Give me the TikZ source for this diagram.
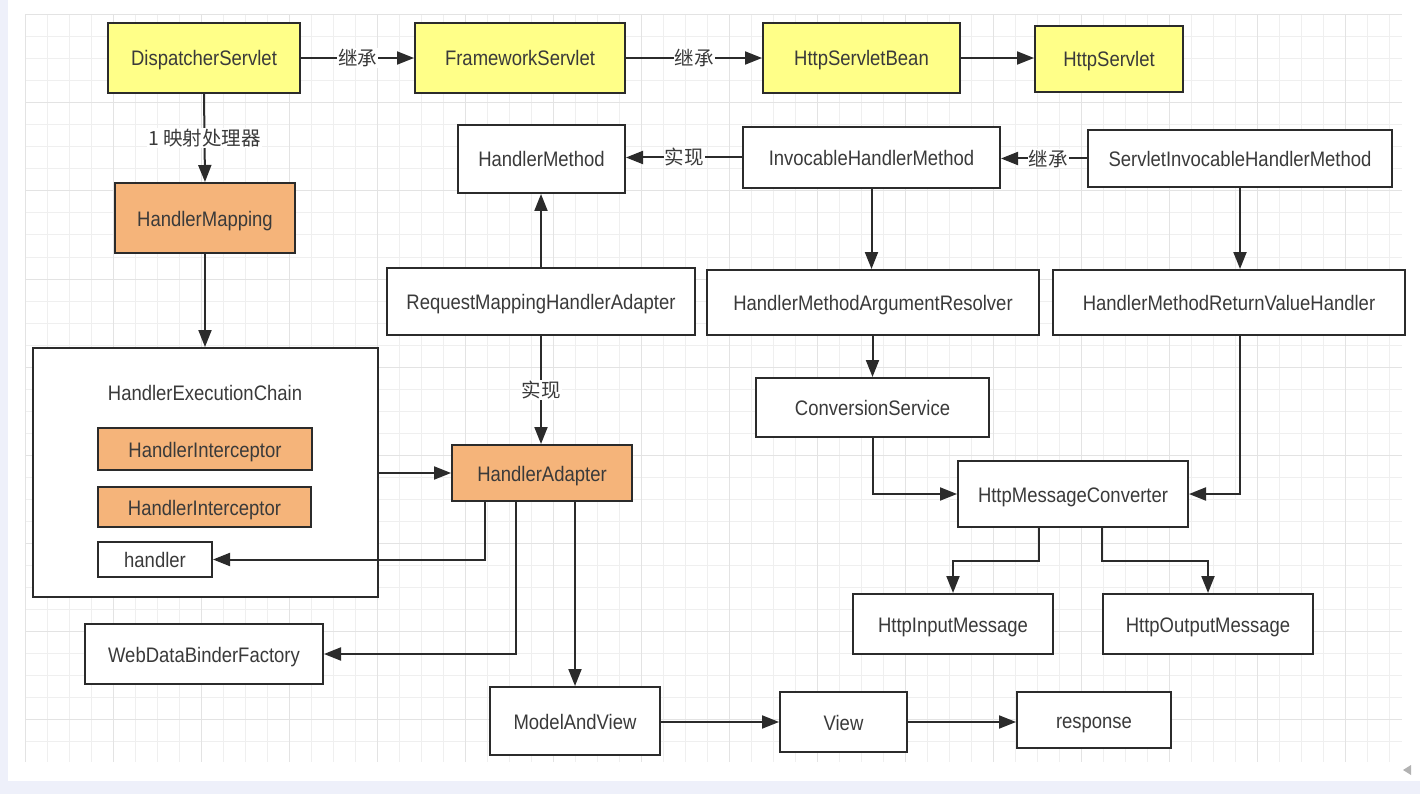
\documentclass[tikz,border=0pt]{standalone}
\usepackage{fontspec}
\setmainfont{Liberation Sans}
\newfontfamily\boxfont[FakeStretch=0.88]{Liberation Sans}
\newfontfamily\cjk{Noto Sans CJK SC}
\usetikzlibrary{arrows.meta}
\definecolor{ylw}{HTML}{FFFF88}
\definecolor{org}{HTML}{F5B47A}
\definecolor{edgec}{HTML}{2B2B2B}
\definecolor{txt}{HTML}{3A3A3A}
\definecolor{gridminor}{HTML}{EFEFEF}
\definecolor{gridmajor}{HTML}{E3E3E3}
\definecolor{framec}{HTML}{EEF0FA}
\newcommand\mybox[7]{\node[box,#6,minimum width={(#4-#2)*1pt},minimum height={(#5-#3)*1pt}] (#1) at ({(#2+#4)/2},{(#3+#5)/2}) {#7};}
\begin{document}
\begin{tikzpicture}[x=1pt,y=-1pt,
  box/.style={draw=edgec,line width=2pt,fill=white,inner sep=0pt,text=txt,text height=16pt,text depth=0pt,font=\boxfont\fontsize{21}{24}\selectfont},
  ybox/.style={fill=ylw},
  obox/.style={fill=org},
  plain/.style={},
  arr/.style={draw=edgec,line width=2pt,-{Triangle[length=17pt,width=13pt]}},
  lbl/.style={fill=white,inner sep=1pt,text=txt,font=\cjk\fontsize{19.5}{22}\selectfont}]
\useasboundingbox (0,0) rectangle (1420,794);
\fill[framec] (0,0) rectangle (1420,794);
\fill[white] (8,0) rectangle (1420,781);
% grid
\begin{scope}
\clip (25,15) rectangle (1402,762);
\foreach \i in {0,...,63} \draw[gridminor,line width=1pt] ({25+22*\i},15) -- ({25+22*\i},762);
\foreach \j in {0,...,34} \draw[gridminor,line width=1pt] (25,{15+22*\j}) -- (1402,{15+22*\j});
\foreach \i in {0,...,16} \draw[gridmajor,line width=1pt] ({25+88*\i},15) -- ({25+88*\i},762);
\foreach \j in {0,...,9} \draw[gridmajor,line width=1pt] (25,{15+88*\j}) -- (1402,{15+88*\j});
\end{scope}
\fill[gray!60] (1403,770) -- (1411,765) -- (1411,775) -- cycle;
% boxes
\mybox{DS}{108}{23}{300}{93}{ybox}{DispatcherServlet}
\mybox{FS}{415}{23}{625}{93}{ybox}{FrameworkServlet}
\mybox{HSB}{763}{23}{960}{93}{ybox}{HttpServletBean}
\mybox{HS}{1035}{26}{1183}{92}{ybox}{HttpServlet}
\mybox{HMeth}{458}{125}{625}{193}{plain}{HandlerMethod}
\mybox{IHM}{743}{127}{1000}{188}{plain}{InvocableHandlerMethod}
\mybox{SIHM}{1088}{130}{1392}{187}{plain}{ServletInvocableHandlerMethod}
\mybox{HMap}{115}{183}{295}{253}{obox}{HandlerMapping}
\mybox{RMHA}{387}{268}{695}{335}{plain}{RequestMappingHandlerAdapter}
\mybox{HMAR}{707}{270}{1039}{335}{plain}{HandlerMethodArgumentResolver}
\mybox{HMRVH}{1053}{270}{1405}{335}{plain}{HandlerMethodReturnValueHandler}
\mybox{HEC}{33}{348}{378}{597}{plain}{}
\node[text=txt,inner sep=0pt,text height=16pt,text depth=0pt,font=\boxfont\fontsize{21}{24}\selectfont] (HECt) at (205,392) {HandlerExecutionChain};
\mybox{CS}{756}{378}{989}{437}{plain}{ConversionService}
\mybox{HA}{452}{445}{632}{501}{obox}{HandlerAdapter}
\mybox{HI1}{98}{428}{312}{470}{obox}{HandlerInterceptor}
\mybox{HI2}{98}{487}{311}{527}{obox}{HandlerInterceptor}
\mybox{handler}{98}{542}{212}{577}{plain}{handler}
\mybox{HMC}{958}{461}{1188}{527}{plain}{HttpMessageConverter}
\mybox{HIM}{853}{594}{1053}{654}{plain}{HttpInputMessage}
\mybox{HOM}{1103}{594}{1313}{654}{plain}{HttpOutputMessage}
\mybox{WDBF}{85}{624}{323}{684}{plain}{WebDataBinderFactory}
\mybox{MAV}{490}{687}{660}{755}{plain}{ModelAndView}
\mybox{View}{780}{692}{907}{752}{plain}{View}
\mybox{resp}{1017}{692}{1171}{748}{plain}{response}
% connectors
\draw[arr] (DS.east) -- node[lbl] {继承} (FS.west);
\draw[arr] (FS.east) -- node[lbl] {继承} (HSB.west);
\draw[arr] (HSB.east) -- (HSB.east -| HS.west);
\draw[arr] (DS.south) -- node[lbl] {1 映射处理器} (HMap.north);
\draw[arr] (HMap.south) -- (HMap.south |- HEC.north);
\draw[arr] (IHM.west) -- node[lbl] {实现} (IHM.west -| HMeth.east);
\draw[arr] (SIHM.west) -- node[lbl,pos=0.45] {继承} (SIHM.west -| IHM.east);
\draw[arr] (RMHA.north) -- (RMHA.north |- HMeth.south);
\draw[arr] (RMHA.south) -- node[lbl] {实现} (RMHA.south |- HA.north);
\draw[arr] (IHM.south) -- (IHM.south |- HMAR.north);
\draw[arr] (SIHM.south) -- (SIHM.south |- HMRVH.north);
\draw[arr] (CS.north |- HMAR.south) -- (CS.north);
\draw[arr] (CS.south) |- (HMC.west);
\draw[arr] (SIHM.south |- HMRVH.south) |- (HMC.east);
\draw[arr] ([xshift=82pt]HMC.south west) -- ++(0,33) -| (HIM.north);
\draw[arr] ([xshift=145pt]HMC.south west) -- ++(0,33) -| (HOM.north);
\draw[arr] (HEC.east |- HA.west) -- (HA.west);
\draw[arr] ([xshift=34pt]HA.south west) |- (handler.east);
\draw[arr] ([xshift=65pt]HA.south west) |- (WDBF.east);
\draw[arr] (HA.south -| MAV.north) -- (MAV.north);
\draw[arr] (MAV.east |- View.west) -- (View.west);
\draw[arr] (View.east) -- (View.east -| resp.west);
\end{tikzpicture}
\end{document}
